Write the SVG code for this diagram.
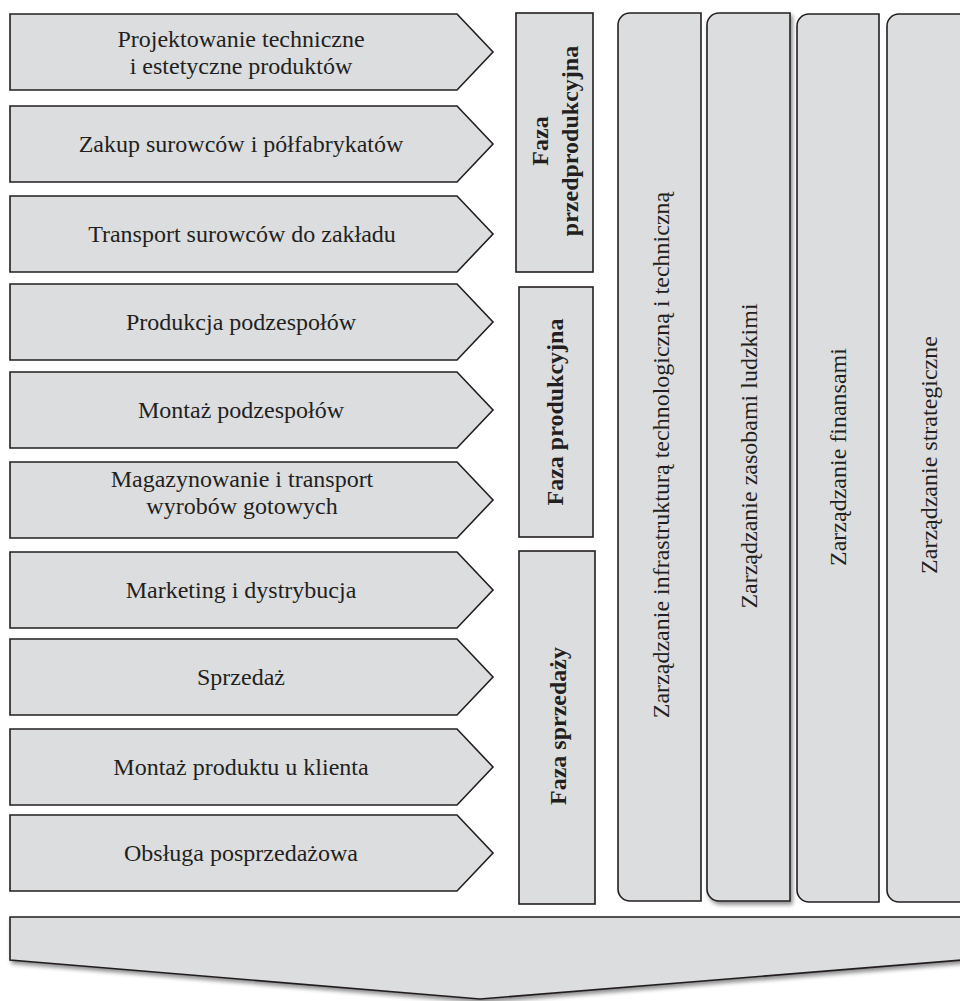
<svg xmlns="http://www.w3.org/2000/svg" width="960" height="1001" viewBox="0 0 960 1001">
<style>
.s{fill:#dcdddf;stroke:#231f20;stroke-width:1.6;stroke-linejoin:miter}
.t{font-family:"Liberation Serif","Times New Roman",serif;font-size:24px;fill:#231f20;text-anchor:middle}
.b{font-weight:bold}
</style>
<defs>
<filter id="sh" x="-10%" y="-10%" width="120%" height="130%">
<feGaussianBlur in="SourceAlpha" stdDeviation="2"/>
<feOffset dx="2" dy="3" result="o"/>
<feComponentTransfer><feFuncA type="linear" slope="0.45"/></feComponentTransfer>
<feMerge><feMergeNode/><feMergeNode in="SourceGraphic"/></feMerge>
</filter>
</defs>
<g id="activities">
<g id="a1"><polygon class="s" points="10,14 457,14 493,52 457,90 10,90"/><text class="t" x="241" y="47">Projektowanie techniczne</text><text class="t" x="241" y="74">i estetyczne produktów</text></g>
<g id="a2"><polygon class="s" points="10,106 457,106 493,144 457,182 10,182"/><text class="t" x="241" y="152">Zakup surowców i półfabrykatów</text></g>
<g id="a3"><polygon class="s" points="10,196 457,196 493,234 457,272 10,272"/><text class="t" x="242" y="242">Transport surowców do zakładu</text></g>
<g id="a4"><polygon class="s" points="10,284 457,284 493,322 457,360 10,360"/><text class="t" x="241" y="330">Produkcja podzespołów</text></g>
<g id="a5"><polygon class="s" points="10,372 457,372 493,410 457,448 10,448"/><text class="t" x="241" y="418">Montaż podzespołów</text></g>
<g id="a6"><polygon class="s" points="10,462 457,462 493,500 457,538 10,538"/><text class="t" x="242" y="487">Magazynowanie i transport</text><text class="t" x="242" y="514">wyrobów gotowych</text></g>
<g id="a7"><polygon class="s" points="10,552 457,552 493,590 457,628 10,628"/><text class="t" x="241" y="598">Marketing i dystrybucja</text></g>
<g id="a8"><polygon class="s" points="10,639 457,639 493,677 457,715 10,715"/><text class="t" x="241" y="685">Sprzedaż</text></g>
<g id="a9"><polygon class="s" points="10,729 457,729 493,767 457,805 10,805"/><text class="t" x="241" y="775">Montaż produktu u klienta</text></g>
<g id="a10"><polygon class="s" points="10,815 457,815 493,853 457,891 10,891"/><text class="t" x="241" y="861">Obsługa posprzedażowa</text></g>
</g>
<g id="phases">
<g id="p1"><rect class="s" x="516" y="13" width="77" height="259"/><text class="t b" transform="translate(548,141) rotate(-90)">Faza</text><text class="t b" transform="translate(578,141) rotate(-90)">przedprodukcyjna</text></g>
<g id="p2"><rect class="s" x="519" y="287" width="74" height="250"/><text class="t b" transform="translate(563,412) rotate(-90)">Faza produkcyjna</text></g>
<g id="p3"><rect class="s" x="519" y="551" width="76" height="353"/><text class="t b" transform="translate(566,726) rotate(-90)">Faza sprzedaży</text></g>
</g>
<g id="management">
<g id="m1"><path class="s" d="M701,13 V901 H630 A12,12 0 0 1 618,889 V25 A12,12 0 0 1 630,13 Z"/><text class="t" transform="translate(669,455) rotate(-90)">Zarządzanie infrastrukturą technologiczną i techniczną</text></g>
<g id="m2"><path class="s" filter="url(#sh)" d="M790,13 V901 H719 A12,12 0 0 1 707,889 V25 A12,12 0 0 1 719,13 Z"/><text class="t" transform="translate(757,456) rotate(-90)">Zarządzanie zasobami ludzkimi</text></g>
<g id="m3"><path class="s" d="M879,14 V902 H809 A12,12 0 0 1 797,890 V26 A12,12 0 0 1 809,14 Z"/><text class="t" transform="translate(846,457) rotate(-90)">Zarządzanie finansami</text></g>
<g id="m4"><path class="s" d="M975,14 V902 H899 A12,12 0 0 1 887,890 V26 A12,12 0 0 1 899,14 Z"/><text class="t" transform="translate(937,455) rotate(-90)">Zarządzanie strategiczne</text></g>
</g>
<g id="bottom-arrow"><polygon class="s" filter="url(#sh)" points="10,917 975,917 975,959 480,999 10,960"/></g>
</svg>
